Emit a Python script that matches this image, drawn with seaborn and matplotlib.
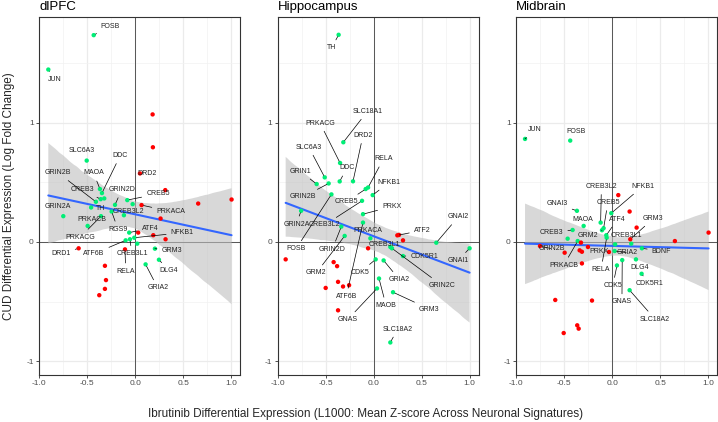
import numpy as np
import pandas as pd
import matplotlib
matplotlib.use("Agg")
import matplotlib.pyplot as plt
import seaborn as sns

# ---- data ----
# "" = unlabelled gene
dlpfc_genes = ["FOSB", "JUN", "SLC6A3", "MAOA", "DDC", "CREB3", "", "GRIN2B", "TH", "GRIN2D",
               "CREB5", "", "RGS9", "CREB3L2", "GRIN2A", "PRKACG", "PRKACB", "ATF4", "NFKB1",
               "CREB3L1", "ATF6B", "", "GRM3", "DLG4", "GRIA2",
               "", "", "DRD2", "", "", "", "PRKACA", "", "", "", "", "DRD1", "RELA",
               "", "", "", ""]
dlpfc_x = [-0.433, -0.906, -0.506, -0.368, -0.347, -0.360, -0.323, -0.410, -0.460, -0.211,
           -0.083, -0.027, -0.246, -0.118, -0.750, -0.357, -0.496, -0.063, -0.010,
           -0.055, -0.100, 0.021, 0.205, 0.247, 0.108,
           0.181, 0.184, 0.049, 0.313, 0.656, 1.004, 0.066, 0.264, 0.031, 0.188, 0.316, -0.590, -0.107,
           -0.316, -0.305, -0.316, -0.375]
dlpfc_y = [1.738, 1.449, 0.684, 0.445, 0.411, 0.360, 0.366, 0.338, 0.290, 0.312,
           0.352, 0.318, 0.256, 0.225, 0.217, 0.217, 0.135, 0.079, 0.036,
           0.023, 0.014, -0.014, -0.056, -0.149, -0.188,
           1.072, 0.796, 0.576, 0.436, 0.323, 0.357, 0.310, 0.197, 0.079, 0.057, 0.023, -0.053, -0.062,
           -0.200, -0.320, -0.394, -0.447]

hippo_genes = ["TH", "SLC18A1", "PRKACG", "DRD2", "DDC", "SLC6A3", "GRIN1", "GRIN2B", "RELA",
               "CREB5", "NFKB1", "FOSB", "CREB3L2", "PRKX", "ATF6B", "GRIN2A", "GRIN2D", "GRM2",
               "PRKACA", "CREB3L1", "GRIN2C", "CDK5R1", "GNAI2", "GNAI1", "CDK5", "GRIA2",
               "MAOB", "GNAS", "GRM3", "SLC18A2",
               "ATF2", "", "", "", "", "", "", "", "", "", "", ""]
hippo_x = [-0.365, -0.316, -0.350, -0.215, -0.354, -0.510, -0.594, -0.469, -0.058,
           -0.083, -0.010, -0.440, -0.121, -0.111, -0.111, -0.756, -0.337, -0.302,
           -0.034, 0.174, 0.191, 0.306, 0.653, 1.000, 0.021, 0.104,
           0.056, 0.035, 0.202, 0.174,
           0.247, 0.264, 0.306, -0.058, -0.917, -0.417, -0.381, -0.500, -0.371, -0.319, -0.256, -0.371]
hippo_y = [1.741, 0.838, 0.664, 0.510, 0.509, 0.543, 0.487, 0.492, 0.458,
           0.445, 0.394, 0.400, 0.346, 0.234, 0.163, 0.262, 0.129, 0.051,
           0.031, -0.042, -0.053, -0.118, -0.006, -0.053, -0.146, -0.155,
           -0.307, -0.390, -0.422, -0.844,
           0.056, 0.059, 0.014, -0.053, -0.146, -0.169, -0.203, -0.386, -0.335, -0.374, -0.363, -0.574]

mid_genes = ["JUN", "FOSB", "GNAI3", "MAOA", "CREB3", "", "PRKACB", "CREB3L2", "GRM2", "CREB5",
             "ATF4", "RELA", "NFKB1", "CREB3L1", "", "BDNF", "GRIA2", "GNAS", "DLG4", "CDK5",
             "CDK5R1", "SLC18A2",
             "", "", "", "GRM3", "", "", "GRIN2B", "", "", "", "", "", "PRKX", "", "", "", "", "", ""]
mid_x = [-0.909, -0.438, -0.368, -0.298, -0.413, -0.465, -0.360, -0.121, -0.107, -0.090,
         -0.062, -0.058, -0.010, 0.198, 0.030, 0.309, 0.025, 0.104, 0.247, 0.049,
         0.306, 0.181,
         0.063, 0.181, 0.254, 0.188, 0.653, 1.004, -0.753, -0.496, -0.340, -0.316, -0.253, -0.326,
         -0.034, -0.316, -0.594, -0.211, -0.365, -0.350, -0.506]
mid_y = [0.866, 0.852, 0.262, 0.135, 0.101, 0.028, 0.008, 0.163, 0.099, 0.116,
         0.057, 0.036, 0.242, -0.014, -0.020, -0.053, -0.076, -0.152, -0.146, -0.197,
         -0.267, -0.405,
         0.394, 0.256, 0.121, 0.023, 0.008, 0.079, -0.034, -0.090, -0.070, -0.082, -0.042, -0.005,
         -0.084, -0.180, -0.487, -0.492, -0.700, -0.728, -0.765]

# ---- label placement (offset of text centre from its point, data units) ----
dlpfc_offsets = {
    "FOSB": (0.17, 0.076), "JUN": (0.07, -0.082), "SLC6A3": (-0.052, 0.082), "DDC": (0.19, 0.315),
    "MAOA": (-0.066, 0.135), "GRIN2B": (-0.393, 0.242), "CREB3": (-0.194, 0.078), "TH": (0.094, -0.005),
    "GRIN2D": (0.07, 0.127), "CREB5": (0.32, 0.053), "PRKACA": (0.305, -0.054), "CREB3L2": (0.052, 0.028),
    "RGS9": (0.066, -0.149), "GRIN2A": (-0.052, 0.079), "PRKACB": (0.04, 0.05), "PRKACG": (-0.214, -0.175),
    "ATF4": (0.215, 0.037), "NFKB1": (0.5, 0.042), "DRD1": (-0.184, -0.045), "ATF6B": (-0.333, -0.113),
    "CREB3L1": (0.02, -0.122), "RELA": (0.008, -0.183), "GRM3": (0.177, -0.014), "DLG4": (0.104, -0.09),
    "GRIA2": (0.126, -0.197), "DRD2": (0.073, 0.003),
}
hippo_offsets = {
    "TH": (-0.073, -0.11), "SLC18A1": (0.25, 0.259), "PRKACG": (-0.208, 0.334), "DRD2": (0.104, 0.386),
    "DDC": (0.075, 0.113), "SLC6A3": (-0.165, 0.253), "RELA": (0.16, 0.24), "GRIN1": (-0.17, 0.106),
    "GRIN2B": (-0.264, -0.112), "NFKB1": (0.169, 0.106), "CREB5": (-0.2, -0.107),
    "CREB3L2": (-0.39, -0.203), "PRKX": (0.3, 0.064), "FOSB": (-0.368, -0.456),
    "GRIN2A": (-0.05, -0.112), "ATF6B": (-0.174, -0.619), "GRIN2D": (-0.094, -0.19),
    "GRM2": (-0.295, -0.31), "PRKACA": (-0.031, 0.068), "ATF2": (0.26, 0.042),
    "CREB3L1": (-0.063, 0.023), "GRIN2C": (0.519, -0.31), "CDK5R1": (0.222, 0.0),
    "GNAI2": (0.229, 0.217), "GNAI1": (-0.118, -0.101), "CDK5": (-0.16, -0.107),
    "GRIA2": (0.164, -0.16), "MAOB": (0.073, -0.225), "GNAS": (-0.306, -0.262),
    "GRM3": (0.378, -0.141), "SLC18A2": (0.076, 0.112),
}
mid_offsets = {
    "JUN": (0.101, 0.076), "FOSB": (0.057, 0.076), "CREB3L2": (0.008, 0.304), "CREB5": (0.045, 0.216),
    "NFKB1": (0.325, 0.224), "GNAI3": (-0.208, 0.059), "MAOA": (-0.012, 0.057), "CREB3": (-0.221, -0.023),
    "GRM2": (-0.146, -0.042), "ATF4": (0.118, 0.135), "GRM3": (0.24, 0.174), "CREB3L1": (-0.052, 0.071),
    "GRIN2B": (0.125, -0.023), "PRKX": (-0.106, 0.0), "PRKACB": (-0.146, -0.203), "RELA": (-0.059, -0.267),
    "GRIA2": (0.135, -0.014), "BDNF": (0.205, -0.023), "DLG4": (0.042, -0.065), "CDK5": (-0.042, -0.169),
    "CDK5R1": (0.078, -0.084), "GNAS": (-0.003, -0.352), "SLC18A2": (0.264, -0.242),
}

sns.set_theme(style="white")
plt.rcParams["font.family"] = ["Liberation Sans", "DejaVu Sans"]

fig = plt.figure(figsize=(7.18, 4.22), dpi=100)
lefts = [39.3 / 718, 277.7 / 718, 516.3 / 718]
W, H = 718, 422
bottom = (H - 374.7) / H
height = (374.7 - 17.3) / H
width = 201 / W

palette = {"reversed": "#00EE76", "same": "#FF0000"}


def draw_panel(ax, genes, xs, ys, title, offsets):
    df = pd.DataFrame({"gene": genes, "x": xs, "y": ys})
    df["direction"] = np.where(df["x"] * df["y"] < 0, "reversed", "same")

    ax.set_xlim(-1.0, 1.095)
    ax.set_ylim(-1.115, 1.888)
    ax.set_xticks([-1.0, -0.5, 0.0, 0.5, 1.0])
    ax.set_xticks([-0.75, -0.25, 0.25, 0.75], minor=True)
    ax.set_yticks([-1, 0, 1])
    ax.set_yticks([-0.5, 0.5, 1.5], minor=True)
    ax.set_xticklabels(["-1.0", "-0.5", "0.0", "0.5", "1.0"])
    ax.set_yticklabels(["-1", "0", "1"])
    ax.grid(which="major", color="#EBEBEB", lw=0.9)
    ax.grid(which="minor", color="#F2F2F2", lw=0.5)
    ax.set_axisbelow(True)
    for s in ax.spines.values():
        s.set_color("#333333")
        s.set_linewidth(0.8)
    ax.tick_params(which="major", length=2.5, width=0.6, color="#333333",
                   labelsize=6.0, labelcolor="#4D4D4D", pad=1.5, bottom=True, left=True)
    ax.tick_params(which="minor", length=0)

    ax.axvline(0, color="#555555", lw=0.7, zorder=1)
    ax.axhline(0, color="#555555", lw=0.7, zorder=1)

    sns.regplot(data=df, x="x", y="y", scatter=False, ax=ax, color="#3366FF",
                line_kws={"lw": 1.5, "zorder": 3}, seed=1, n_boot=2000)
    # grey confidence ribbon like ggplot
    for coll in ax.collections:
        coll.set_facecolor("#BEBEBE")
        coll.set_alpha(0.6)
        coll.set_edgecolor("none")
        coll.set_zorder(2)

    sns.scatterplot(data=df, x="x", y="y", hue="direction", palette=palette, s=10,
                    linewidth=0, legend=False, ax=ax, zorder=4)

    for _, r in df[df["gene"] != ""].iterrows():
        dx, dy = offsets.get(r["gene"], (0.08, 0.05))
        dist_px = np.hypot(dx * 96, dy * 118.5)
        arrow = None
        if dist_px > 11:
            arrow = dict(arrowstyle="-", color="black", lw=0.5, shrinkA=1, shrinkB=1.5)
        ax.annotate(r["gene"], xy=(r["x"], r["y"]), xytext=(r["x"] + dx, r["y"] + dy),
                    textcoords="data", ha="center", va="center", fontsize=5,
                    color="#222222", arrowprops=arrow, zorder=5)

    ax.set_xlabel("")
    ax.set_ylabel("")
    ax.set_title(title, loc="left", fontsize=9.5, pad=5.5, color="black")


panels = [
    (dlpfc_genes, dlpfc_x, dlpfc_y, "dlPFC", dlpfc_offsets),
    (hippo_genes, hippo_x, hippo_y, "Hippocampus", hippo_offsets),
    (mid_genes, mid_x, mid_y, "Midbrain", mid_offsets),
]
for left, (g, xs, ys, t, off) in zip(lefts, panels):
    ax = fig.add_axes([left, bottom, width, height])
    draw_panel(ax, g, xs, ys, t, off)

fig.text(0.012, 1 - 196 / H, "CUD Differential Expression (Log Fold Change)",
         rotation=90, ha="center", va="center", fontsize=8.5)
fig.text(365.7 / W, (H - 414) / H,
         "Ibrutinib Differential Expression (L1000: Mean Z-score Across Neuronal Signatures)",
         ha="center", va="center", fontsize=8.5)

fig.savefig("out.png", dpi=100)
